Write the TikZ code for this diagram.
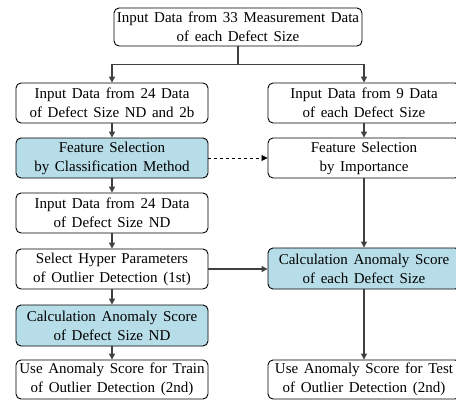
\documentclass[tikz,border=0pt]{standalone}
\usepackage{fontspec}
\setmainfont{Liberation Serif}[WordSpace=1.5]
\usetikzlibrary{arrows.meta}
\definecolor{boxblue}{RGB}{183,221,232}
\definecolor{linegray}{RGB}{64,64,64}
\tikzset{
  box/.style={draw=black, line width=0.9pt, rounded corners=5pt, align=center,
    minimum width=192pt, minimum height=40pt, inner sep=0pt,
    font=\fontsize{15}{19}\selectfont},
  bluebox/.style={box, fill=boxblue},
  arr/.style={draw=linegray, line width=1.2pt, -{Triangle[length=6pt,width=6pt]}},
}
\begin{document}
\begin{tikzpicture}[x=1pt,y=1pt]
\clip (0,0) rectangle (456,-400);
\fill[white] (0,0) rectangle (456,-400);
\node[box, minimum width=248pt, minimum height=38pt] (top) at (238,-27) {Input Data from 33 Measurement Data\\of each Defect Size};
\node[box] (l1) at (112,-103) {Input Data from 24 Data\\of Defect Size ND and 2b};
\node[bluebox] (l2) at (112,-158) {Feature Selection\\by Classification Method};
\node[box] (l3) at (112,-213) {Input Data from 24 Data\\of Defect Size ND};
\node[box] (l4) at (112,-269) {Select Hyper Parameters\\of Outlier Detection (1st)};
\node[bluebox, minimum height=41pt] (l5) at (112,-325.5) {Calculation Anomaly Score\\of Defect Size ND};
\node[box, minimum height=39pt] (l6) at (112,-379.5) {Use Anomaly Score for Train\\of Outlier Detection (2nd)};
\node[box] (r1) at (364,-103) {Input Data from 9 Data\\of each Defect Size};
\node[box] (r2) at (364,-158) {Feature Selection\\by Importance};
\node[bluebox, minimum height=41pt] (r3) at (364,-268.5) {Calculation Anomaly Score\\of each Defect Size};
\node[box, minimum height=39pt] (r4) at (364,-379.5) {Use Anomaly Score for Test\\of Outlier Detection (2nd)};
\draw[arr] (top.south) -- ++(0,-18) -| (l1.north);
\draw[arr] (top.south) -- ++(0,-18) -| (r1.north);
\draw[arr] (l1) -- (l2);
\draw[arr] (l2) -- (l3);
\draw[arr] (l3) -- (l4);
\draw[arr] (l4) -- (l5);
\draw[arr] (l5) -- (l6);
\draw[arr] (r1) -- (r2);
\draw[arr] (r2) -- (r3);
\draw[arr] (r3) -- (r4);
\draw[arr, draw=black, line width=0.8pt, dashed] (l2) -- (r2);
\draw[arr] (l4.east) -- (l4.east -| r3.west);
\end{tikzpicture}
\end{document}
